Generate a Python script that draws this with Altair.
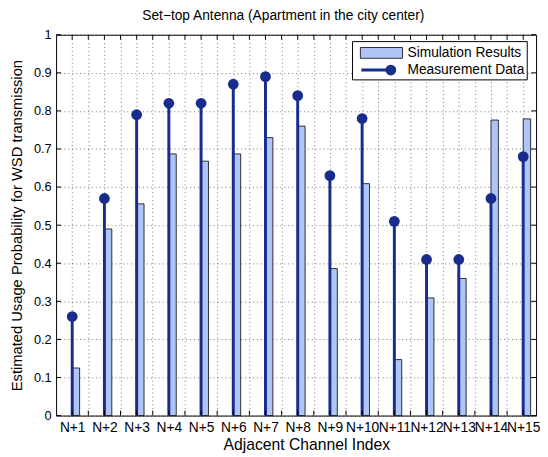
import json
import altair as alt
import pandas as pd

categories = ["N+1", "N+2", "N+3", "N+4", "N+5", "N+6", "N+7", "N+8",
              "N+9", "N+10", "N+11", "N+12", "N+13", "N+14", "N+15"]
measurement = [0.26, 0.57, 0.79, 0.82, 0.82, 0.87, 0.89, 0.84,
               0.63, 0.78, 0.51, 0.41, 0.41, 0.57, 0.68]
simulation = [0.125, 0.49, 0.556, 0.687, 0.668, 0.687, 0.73, 0.76,
              0.386, 0.609, 0.147, 0.309, 0.36, 0.776, 0.779]
y_ticks = [0, 0.1, 0.2, 0.3, 0.4, 0.5, 0.6, 0.7, 0.8, 0.9, 1]
x_ticks = [1, 1.5, 2, 2.5, 3, 3.5, 4, 4.5, 5, 5.5, 6, 6.5, 7, 7.5, 8, 8.5,
           9, 9.5, 10, 10.5, 11, 11.5, 12, 12.5, 13, 13.5, 14, 14.5, 15]
legend_labels = ["Simulation Results", "Measurement Data"]
title_text = "Set\u2212top Antenna (Apartment in the city center)"
x_title = "Adjacent Channel Index"
y_title = "Estimated Usage Probability for WSD transmission"

W, H = 489, 388
DARK = "#182c8c"
LIGHT = "#b0c4f6"
FONT = "Liberation Sans"

df = pd.DataFrame({
    "idx": list(range(1, len(categories) + 1)),
    "label": categories,
    "meas": measurement,
    "sim": simulation,
})

xscale = alt.Scale(domain=[0.5, 15.4], nice=False, zero=False)
yscale = alt.Scale(domain=[0, 1], nice=False, zero=False)

label_expr = ("datum.value % 1 == 0 ? " + json.dumps(categories)
              + "[datum.value - 1] : ''")

xaxis = alt.Axis(
    values=x_ticks, labelExpr=label_expr, grid=True,
    gridDash=[1, 3], gridColor="#000000", gridOpacity=0.55,
    ticks=False, domain=False, labelOverlap=False, labelFlush=False,
    labelPadding=5, labelFontSize=14, title=x_title, titleFontSize=16,
    titlePadding=3, titleX=255)
yaxis = alt.Axis(
    values=y_ticks, format="~g", grid=True, gridDash=[1, 3],
    gridColor="#000000", gridOpacity=0.55, ticks=False, domain=False,
    labelPadding=5, labelFontSize=13, title=y_title, titleFontSize=15,
    titlePadding=9)


def X(field):
    return alt.X(field, scale=xscale, axis=xaxis, title=x_title)


def Y(field):
    return alt.Y(field, scale=yscale, axis=yaxis, title=y_title)


bars = alt.Chart(df).transform_calculate(
    x1="datum.idx", x2="datum.idx + 0.23"
).mark_rect(fill=LIGHT, stroke="black", strokeWidth=0.8).encode(
    x=X("x1:Q"), x2="x2:Q", y=Y("sim:Q"), y2=alt.datum(0),
)

stems = alt.Chart(df).mark_rule(color=DARK, strokeWidth=3).encode(
    x=X("idx:Q"), y=Y("meas:Q"), y2=alt.datum(0),
)
dots = alt.Chart(df).mark_circle(size=120, color=DARK, opacity=1).encode(
    x=X("idx:Q"), y=Y("meas:Q"),
)

xt = pd.DataFrame({"v": x_ticks})
yt = pd.DataFrame({"v": y_ticks})
xb = alt.Chart(xt).mark_rule(color="black", strokeWidth=1).encode(
    x=X("v:Q"), y=alt.value(H), y2=alt.value(H - 5))
xtop = alt.Chart(xt).mark_rule(color="black", strokeWidth=1).encode(
    x=X("v:Q"), y=alt.value(0), y2=alt.value(5))
yl = alt.Chart(yt).mark_rule(color="black", strokeWidth=1).encode(
    y=Y("v:Q"), x=alt.value(0), x2=alt.value(5))
yr = alt.Chart(yt).mark_rule(color="black", strokeWidth=1).encode(
    y=Y("v:Q"), x=alt.value(W - 5), x2=alt.value(W))

one = pd.DataFrame({"a": [0]})
leg_box = alt.Chart(one).mark_rect(fill="white", stroke="black", strokeWidth=1).encode(
    x=alt.value(302), x2=alt.value(480), y=alt.value(7), y2=alt.value(46))
leg_patch = alt.Chart(one).mark_rect(fill=LIGHT, stroke="black", strokeWidth=0.8).encode(
    x=alt.value(310), x2=alt.value(353), y=alt.value(13), y2=alt.value(24))
leg_line = alt.Chart(one).mark_rule(color=DARK, strokeWidth=3).encode(
    x=alt.value(311), x2=alt.value(346), y=alt.value(36))
leg_dot = alt.Chart(one).mark_circle(size=120, color=DARK, opacity=1).encode(
    x=alt.value(341), y=alt.value(36))
leg_text1 = alt.Chart(one).mark_text(
    text=legend_labels[0], align="left", baseline="middle", font=FONT,
    fontSize=14, color="black").encode(x=alt.value(358), y=alt.value(19))
leg_text2 = alt.Chart(one).mark_text(
    text=legend_labels[1], align="left", baseline="middle", font=FONT,
    fontSize=14, color="black").encode(x=alt.value(358), y=alt.value(36))

chart = alt.layer(
    bars, stems, dots, xb, xtop, yl, yr,
    leg_box, leg_patch, leg_line, leg_dot, leg_text1, leg_text2,
).properties(
    width=W, height=H,
    title=alt.TitleParams(title_text, font=FONT, fontSize=14,
                          fontWeight="normal", color="black", offset=6,
                          dx=-13),
    autosize=alt.AutoSizeParams(type="none"),
    padding={"left": 49, "top": 23, "right": 4, "bottom": 40},
).configure_view(
    stroke="black", strokeWidth=1
).configure_axis(
    labelFont=FONT, titleFont=FONT,
    labelColor="black", titleColor="black", titleFontWeight="normal",
)

chart.save("out.html", embed_options={"renderer": "svg", "actions": False})
